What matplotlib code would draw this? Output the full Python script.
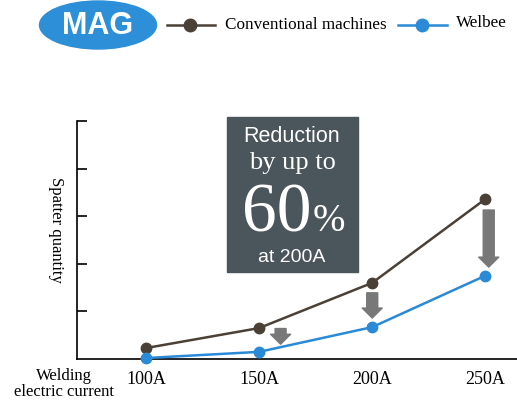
import matplotlib.pyplot as plt
from matplotlib.patches import Ellipse, Rectangle
from matplotlib.lines import Line2D

currents = [100, 150, 200, 250]
current_labels = ['100A', '150A', '200A', '250A']
conventional = [0.23, 0.65, 1.6, 3.36]
welbee = [0.02, 0.15, 0.67, 1.75]

brown = '#4a4036'
blue = '#2a8ad8'
arrow_gray = '#787878'
box_color = '#4b555c'
serif = 'Liberation Serif'
sans = 'Liberation Sans'

fig = plt.figure(figsize=(5.17, 4.03), dpi=100)
ax = fig.add_axes([77 / 517, 44 / 403, 440 / 517, 238 / 403])

ax.plot(currents, conventional, '-o', color=brown, lw=1.8, ms=7.5, zorder=3, clip_on=False)
ax.plot(currents, welbee, '-o', color=blue, lw=1.8, ms=7.5, zorder=3, clip_on=False)

# reduction arrows (x position, start, end) in data units
arrows = [(159.5, 0.64, 0.31), (200, 1.39, 0.86), (251.5, 3.13, 1.93)]
for x, y0, y1 in arrows:
    ax.annotate('', xy=(x, y1), xytext=(x, y0),
                arrowprops=dict(arrowstyle='simple,head_length=1.0,head_width=2.0,tail_width=1.1',
                                color=arrow_gray, shrinkA=0, shrinkB=0, mutation_scale=7.2))

ax.set_xlim(69.5, 264)
ax.set_ylim(0, 5)
ax.spines['top'].set_visible(False)
ax.spines['right'].set_visible(False)
ax.spines['left'].set_linewidth(1.2)
ax.spines['bottom'].set_linewidth(1.2)
ax.set_yticks([1, 2, 3, 4, 5])
ax.set_yticklabels([])
ax.tick_params(axis='y', direction='in', length=7, width=1.2)
ax.set_xticks(currents)
ax.set_xticklabels(current_labels, fontfamily=serif, fontsize=13)
ax.tick_params(axis='x', length=0, pad=9)

fig.text(56 / 517, 1 - 230 / 403, 'Spatter quantity', rotation=270, ha='center', va='center',
         fontfamily=serif, fontsize=12)
fig.text(64 / 517, 1 - 384 / 403, 'Welding\nelectric current', ha='center', va='center',
         fontfamily=serif, fontsize=12, linespacing=0.95)

# callout box
fig.add_artist(Rectangle((227 / 517, 1 - 272 / 403), 131 / 517, 155 / 403,
                         transform=fig.transFigure, color=box_color, zorder=1))
cx = 292 / 517
fig.text(cx, 1 - 137 / 403, 'Reduction', ha='center', va='center', color='white',
         fontfamily=sans, fontsize=15.5)
fig.text(cx, 1 - 163 / 403, 'by up to', ha='center', va='center', color='white',
         fontfamily=serif, fontsize=19)
fig.text(277 / 517, 1 - 231 / 403, '60', ha='center', va='baseline', color='white',
         fontfamily=serif, fontsize=50)
fig.text(313 / 517, 1 - 231 / 403, '%', ha='left', va='baseline', color='white',
         fontfamily=serif, fontsize=28)
fig.text(cx, 1 - 257 / 403, 'at 200A', ha='center', va='center', color='white',
         fontfamily=sans, fontsize=14)

# header legend
fig.add_artist(Ellipse((98 / 517, 1 - 25 / 403), 117 / 517, 48 / 403,
                       transform=fig.transFigure, color='#2d8fd8'))
fig.text(98 / 517, 1 - 26 / 403, 'MAG', ha='center', va='center', color='white',
         fontfamily=sans, fontweight='bold', fontsize=22)
ly = 1 - 25 / 403
fig.add_artist(Line2D([167 / 517, 215 / 517], [ly, ly], color=brown, lw=1.8,
                      transform=fig.transFigure))
fig.add_artist(Line2D([190 / 517], [ly], marker='o', ms=9, color=brown,
                      transform=fig.transFigure))
fig.text(225 / 517, ly, 'Conventional machines', ha='left', va='center',
         fontfamily=serif, fontsize=12.3)
fig.add_artist(Line2D([398 / 517, 447 / 517], [ly, ly], color=blue, lw=1.8,
                      transform=fig.transFigure))
fig.add_artist(Line2D([422 / 517], [ly], marker='o', ms=9, color=blue,
                      transform=fig.transFigure))
fig.text(456 / 517, ly + 2 / 403, 'Welbee', ha='left', va='center',
         fontfamily=serif, fontsize=12.3)

fig.savefig('out.png', dpi=100)
